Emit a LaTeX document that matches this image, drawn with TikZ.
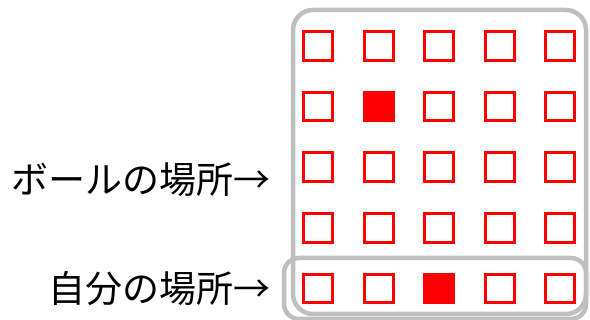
\documentclass[tikz,border=0pt]{standalone}
\usepackage{fontspec}
\setmainfont{Noto Sans CJK JP}
\begin{document}
\begin{tikzpicture}[x=1pt,y=1pt,
  cell/.style={draw=red,line width=3pt,minimum size=28.7pt,inner sep=0pt},
  hit/.style={cell,fill=red},
  frame/.style={draw={rgb,255:red,191;green,191;blue,191},line width=4.5pt},
  lbl/.style={font=\fontsize{37}{42}\selectfont,anchor=east,inner sep=0pt}]
\useasboundingbox (0,0) rectangle (590,320);
\draw[frame,rounded corners=20pt] (293,6) rectangle (586,310);
\draw[frame,rounded corners=15pt] (284,1) rectangle (586,62);
\foreach \i in {0,...,4}{
  \foreach \j in {0,...,4}{
    \node[cell] (c\i\j) at ({318.2+60.5*\i},{320-(46+60.6*\j)}) {};
  }
}
\node[hit] at (c11) {};
\node[hit] at (c24) {};
\node[lbl] (ball) at (271,140) {ボールの場所→};
\node[lbl] (self) at (271,31) {自分の場所→};
\end{tikzpicture}
\end{document}
